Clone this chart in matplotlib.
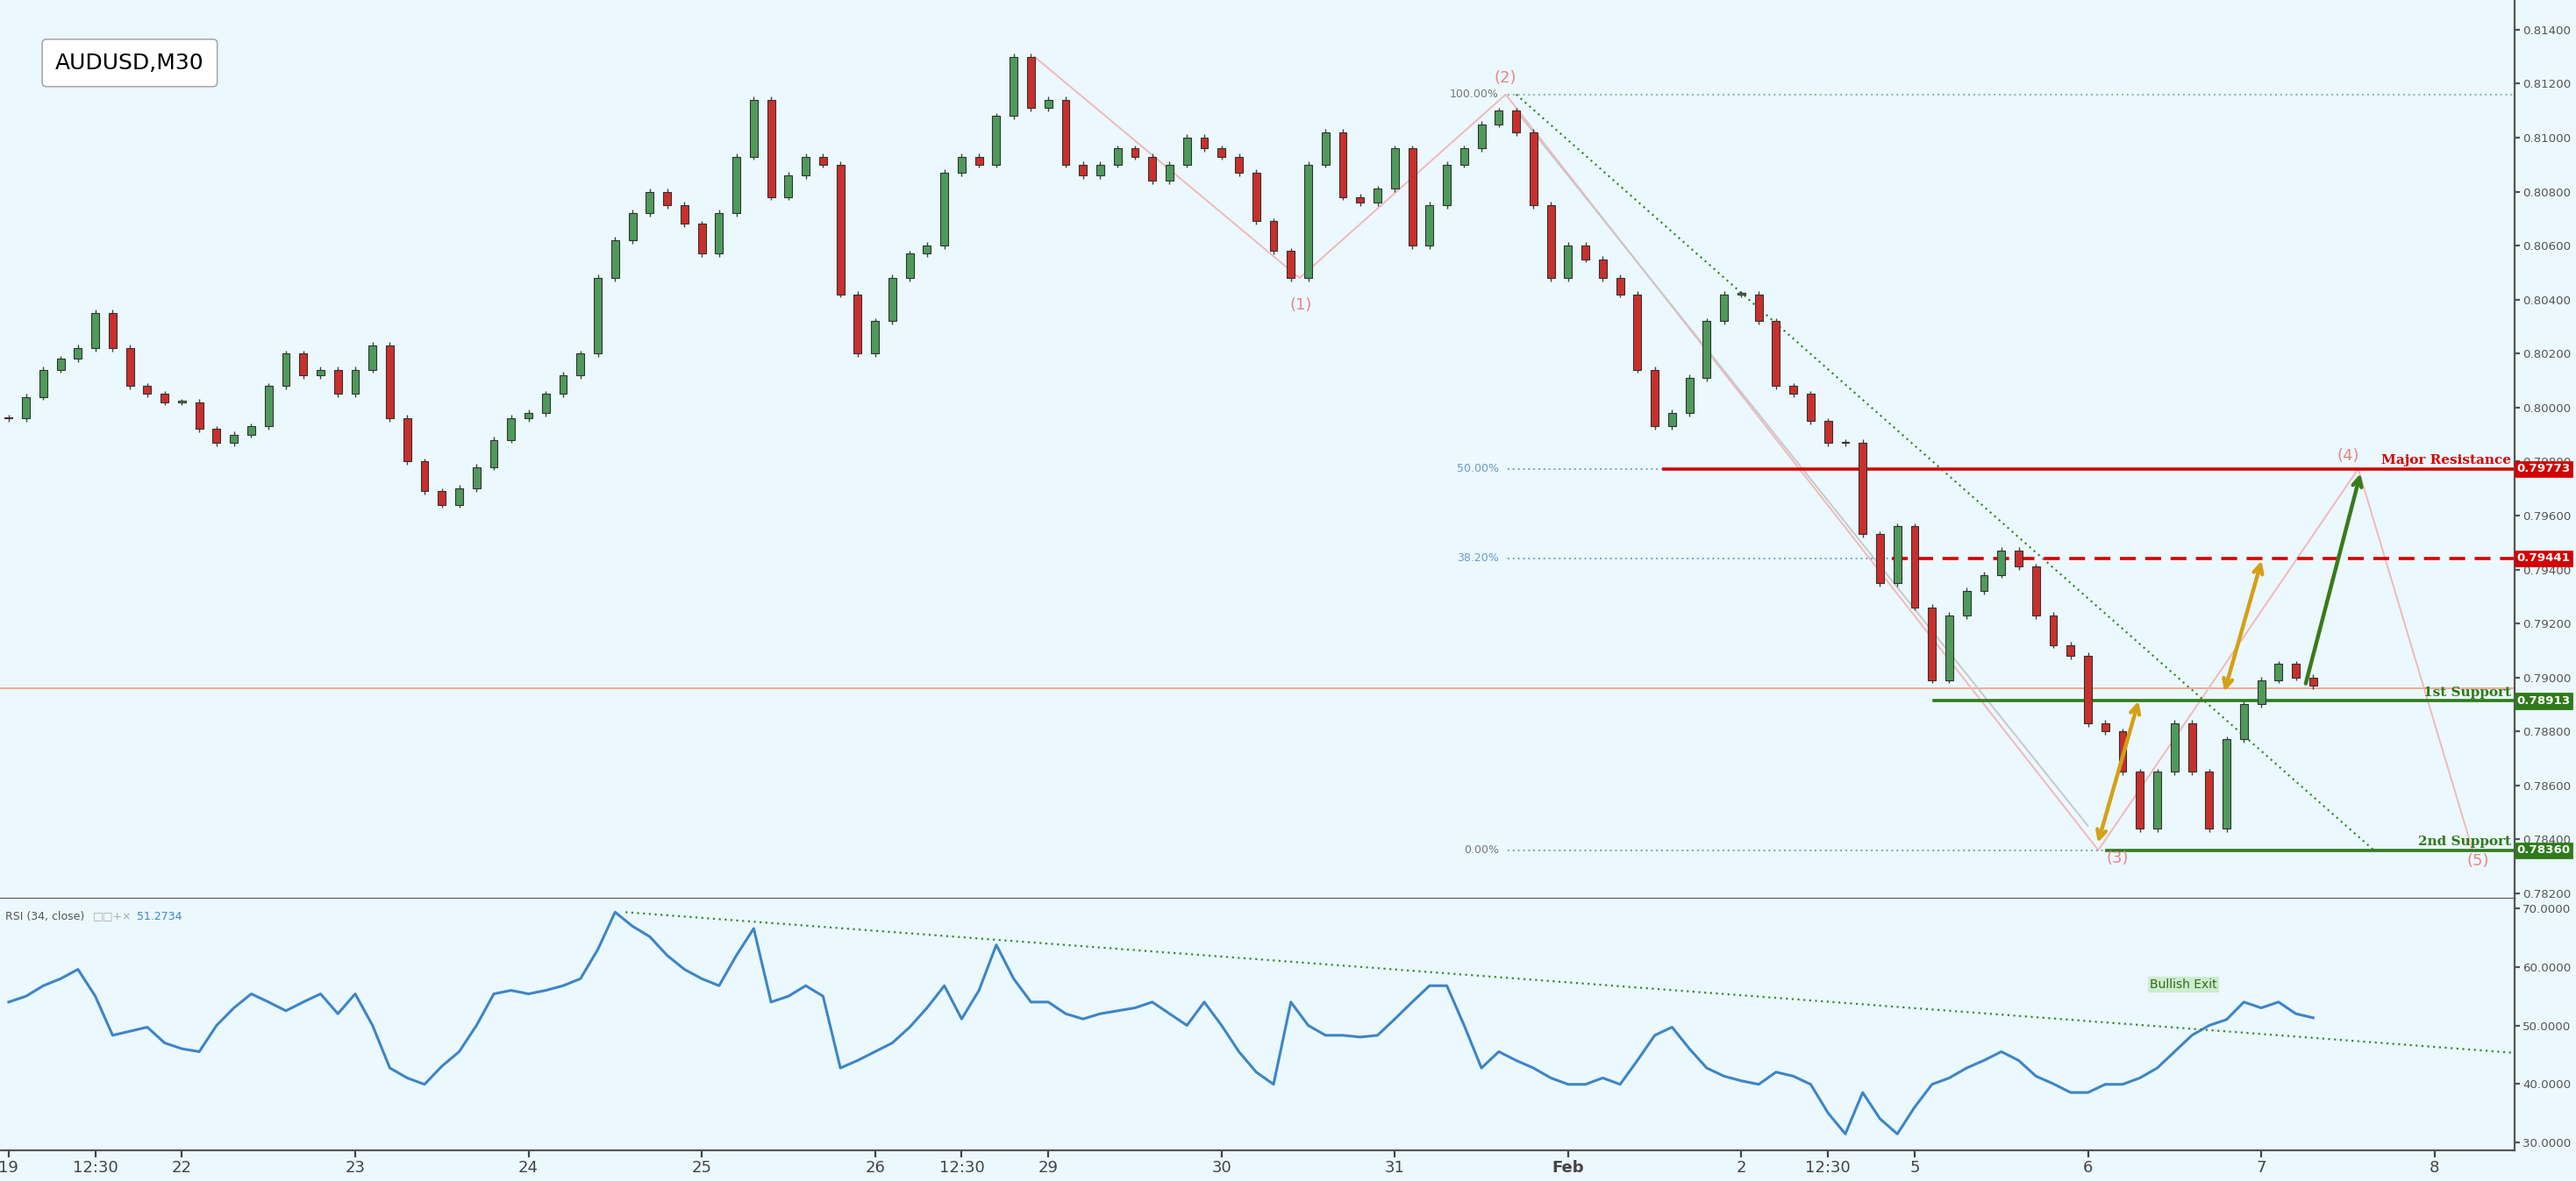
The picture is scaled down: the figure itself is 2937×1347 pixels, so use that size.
import matplotlib
matplotlib.use("Agg")
import matplotlib.pyplot as plt
import matplotlib.transforms as mtrans
import numpy as np

# ---- data ----
closes = [
 .7996,.8004,.8014,.8018,.8022,.8035,.8022,.8008,.8005,.8002,
 .8002,.7992,.7987,.7990,.7993,.8008,.8020,.8012,.8014,.8005,
 .8014,.8023,.7996,.7980,.7969,.7964,.7970,.7978,.7988,.7996,
 .7998,.8005,.8012,.8020,.8048,.8062,.8072,.8080,.8075,.8068,
 .8057,.8072,.8093,.8114,.8078,.8086,.8093,.8090,.8042,.8020,
 .8032,.8048,.8057,.8060,.8087,.8093,.8090,.8108,.8130,.8111,
 .8114,.8090,.8086,.8090,.8096,.8093,.8084,.8090,.8100,.8096,
 .8093,.8087,.8069,.8058,.8048,.8090,.8102,.8078,.8076,.8081,
 .8096,.8060,.8075,.8090,.8096,.8105,.8110,.8102,.8075,.8048,
 .8060,.8055,.8048,.8042,.8014,.7993,.7998,.8011,.8032,.8042,
 .8042,.8032,.8008,.8005,.7995,.7987,.7987,.7953,.7935,.7956,
 .7926,.7899,.7923,.7932,.7938,.7947,.7941,.7923,.7912,.7908,
 .7883,.7880,.7865,.7844,.7865,.7883,.7865,.7844,.7877,.7890,
 .7899,.7905,.7900,.7897]
rsi = [
 54,55,56.8,58,59.6,55,48.3,49,49.7,47,
 46,45.5,50,53,55.4,54,52.5,54,55.4,52,
 55.4,50,42.7,41,39.9,43,45.5,50,55.4,56,
 55.4,56,56.8,58,63,69.4,67,65.2,62,59.6,
 58,56.8,62,66.6,54,55,56.8,55,42.7,44,
 45.5,47,49.7,53,56.8,51.1,56,63.8,58,54,
 54,52,51.1,52,52.5,53,54,52,50,54,
 50,45.5,42,39.9,54,50,48.3,48.3,48,48.3,
 51.1,54,56.8,56.8,50,42.7,45.5,44,42.7,41,
 39.9,39.9,41,39.9,44,48.3,49.7,46,42.7,41.3,
 40.5,39.9,42,41.3,39.9,35,31.4,38.5,34,31.4,
 36,39.9,41,42.7,44,45.5,44,41.3,40,38.5,
 38.5,39.9,39.9,41,42.7,45.5,48.3,50,51,54,
 53,54,52,51.3]
day_ticks = [0,0.5,1,2,3,4,5,5.5,6,7,8,9,10,10.5,11,12,13,14]
day_labels = ["19","12:30","22","23","24","25","26","12:30","29","30","31","Feb","2","12:30","5","6","7","8"]
levels = {"major_res": 0.79773, "res2": 0.79441, "sup1": 0.78913, "sup2": 0.78360}
fib_levels = [(1.0, 0.8116, "100.00%"), (0.5, 0.79773, "50.00%"), (0.382, 0.79441, "38.20%"), (0.0, 0.7836, "0.00%")]
last_price = 0.7896
waves = [("(1)", 7.46, 0.8038), ("(2)", 8.64, 0.8122), ("(3)", 12.17, 0.7833), ("(4)", 13.5, 0.7982), ("(5)", 14.25, 0.7832)]
wave_path_t = [5.92, 7.45, 8.64, 12.06, 13.56, 14.22]
wave_path_p = [0.8130, 0.8048, 0.8116, 0.7836, 0.79773, 0.7836]

BG = "#ebf8fe"
T_PER = 0.1
t = np.arange(len(closes)) * T_PER
c = np.array(closes)
o = np.concatenate([[c[0]], c[:-1]])

fig = plt.figure(figsize=(2937/200, 1347/200), dpi=200, facecolor=BG)
ax = fig.add_axes([0, 0.239, 0.976, 0.761], facecolor=BG)
ax2 = fig.add_axes([0, 0.026, 0.976, 0.213], facecolor=BG, sharex=ax)
xmin, xmax = -0.05, 14.46
ax.set_xlim(xmin, xmax)
ax.set_ylim(0.7818, 0.8151)
ax2.set_ylim(28.6, 71.7)

up = c >= o
cols = np.where(up, "#4e9a5a", "#c9302c")
ax.vlines(t, np.minimum(o, c) - 0.00012, np.maximum(o, c) + 0.00012, color="#444444", lw=0.5, zorder=2)
ax.bar(t, np.where(np.abs(c - o) < 0.00004, 0.00004, c - o), bottom=o, width=0.045,
       color=cols, edgecolor="#333333", linewidth=0.4, zorder=3)

ax.axhline(last_price, color="#f0a080", lw=0.6, zorder=1)

ax.plot(wave_path_t, wave_path_p, color="#f2b8b8", lw=0.7, zorder=1)
ax.plot([8.7, 12.0], [0.8110, 0.7845], color="#c8c8c8", lw=0.7, zorder=1)
for lab, wt, wp in waves:
    ax.text(wt, wp, lab, color="#e88585", fontsize=6.5, ha="center", va="center")

ax.plot([8.7, 13.65], [0.8116, 0.7836], color="#3a8a2a", lw=0.8, ls=(0, (1, 2)), zorder=1)

fib_end = {1.0: xmax, 0.5: 9.55, 0.382: 10.87, 0.0: 12.11}
for r, p, lab in fib_levels:
    ax.plot([8.65, fib_end[r]], [p, p], color="#8ab4a0" if r == 1.0 else "#7aa0c0", lw=0.7, ls=(0, (1, 2)))
    ax.text(8.6, p, lab, fontsize=4.5, color="#6a9acb" if r in (0.5, 0.382) else "#777777",
            ha="right", va="center")

ax.plot([9.55, xmax], [levels["major_res"]] * 2, color="#d40000", lw=1.3)
ax.plot([10.87, xmax], [levels["res2"]] * 2, color="#d40000", lw=1.3, ls=(0, (5, 3)))
ax.plot([11.11, xmax], [levels["sup1"]] * 2, color="#2f7a1a", lw=1.3)
ax.plot([12.11, xmax], [levels["sup2"]] * 2, color="#2f7a1a", lw=1.3)
for key, lab, col in [("major_res", "Major Resistance", "#d40000"), ("sup1", "1st Support", "#2f7a1a"),
                      ("sup2", "2nd Support", "#2f7a1a")]:
    ax.text(xmax - 0.02, levels[key] + 0.00008, lab, color=col, fontsize=5.5,
            fontweight="bold", family="DejaVu Serif", ha="right", va="bottom")

def arr(x0, y0, x1, y1, col, style):
    ax.annotate("", xy=(x1, y1), xytext=(x0, y0),
                arrowprops=dict(arrowstyle=style, color=col, lw=1.6, mutation_scale=9))
arr(12.05, 0.7837, 12.30, 0.7893, "#d4a017", "<->")
arr(12.78, 0.7893, 13.01, 0.7945, "#d4a017", "<->")
arr(13.25, 0.7896, 13.58, 0.79773, "#3a7a1a", "->")

trans = mtrans.blended_transform_factory(ax.transAxes, ax.transData)
ax.yaxis.tick_right()
yt = np.arange(0.782, 0.8141, 0.002)
ax.set_yticks(yt)
ax.set_yticklabels([f"{v:.5f}" for v in yt])
ax.tick_params(axis="y", labelsize=4.8, colors="#555555", length=2, pad=1.5)
ax.tick_params(axis="x", bottom=False, labelbottom=False)
for lvl, col in [("major_res", "#d40000"), ("res2", "#d40000"), ("sup1", "#2f7a1a"), ("sup2", "#2f7a1a")]:
    ax.text(1.001, levels[lvl], f"{levels[lvl]:.5f}", transform=trans, fontsize=4.8, color="white",
            fontweight="bold", va="center", ha="left", clip_on=False,
            bbox=dict(boxstyle="square,pad=0.12", fc=col, ec=col))
for s in ["top", "left"]:
    ax.spines[s].set_visible(False)
ax.spines["right"].set_color("#555555")
ax.spines["bottom"].set_color("#555555")

ax.text(0.022, 0.93, "AUDUSD,M30", transform=ax.transAxes, fontsize=9, va="center", ha="left",
        bbox=dict(boxstyle="round,pad=0.6,rounding_size=0.2", fc="white", ec="#aaaaaa", lw=0.6))

tr = np.arange(len(rsi)) * T_PER
ax2.plot(tr, rsi, color="#3d85c6", lw=1.1)
ax2.plot([3.56, xmax], [69.4, 45.3], color="#3a8a2a", lw=0.8, ls=(0, (1, 2)))
ax2.text(12.55, 57, "Bullish Exit", fontsize=5, color="#2f6a1a", ha="center", va="center",
         bbox=dict(boxstyle="square,pad=0.15", fc="#cdeccd", ec="none"))
ax2.text(0.002, 0.93, "RSI (34, close)", transform=ax2.transAxes, fontsize=4.5, color="#555555", va="center")
ax2.text(0.037, 0.93, "\u25a1\u25a1+\u00d7", transform=ax2.transAxes, fontsize=4.5, color="#aaaaaa", va="center")
ax2.text(0.0545, 0.93, "51.2734", transform=ax2.transAxes, fontsize=4.5, color="#3d85c6", va="center")
ax2.yaxis.tick_right()
ax2.set_yticks([30, 40, 50, 60, 70])
ax2.set_yticklabels([f"{v:.4f}" for v in [30, 40, 50, 60, 70]])
ax2.tick_params(axis="y", labelsize=4.8, colors="#555555", length=2, pad=1.5)
ax2.set_xticks(day_ticks)
ax2.set_xticklabels(day_labels)
ax2.tick_params(axis="x", labelsize=6.5, colors="#444444", length=3, pad=1)
for lbl in ax2.get_xticklabels():
    if lbl.get_text() == "Feb":
        lbl.set_fontweight("bold")
for s in ["top", "left"]:
    ax2.spines[s].set_visible(False)
ax2.spines["right"].set_color("#555555")
ax2.spines["bottom"].set_color("#555555")

fig.savefig("out.png", dpi=200, facecolor=BG)
